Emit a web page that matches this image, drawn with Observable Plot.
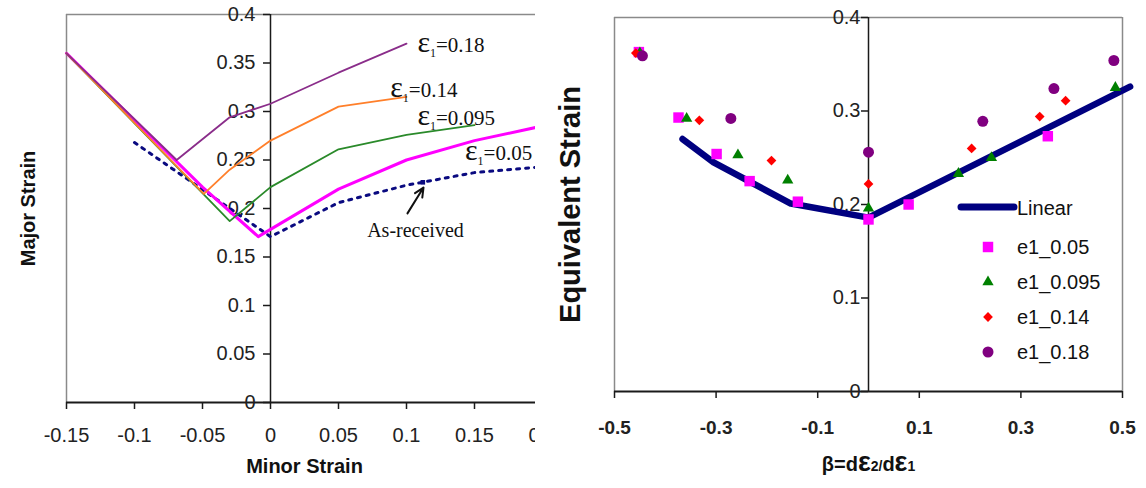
<!DOCTYPE html>
<html><head><meta charset="utf-8">
<script src="https://cdn.jsdelivr.net/npm/d3@7"></script>
<script src="https://cdn.jsdelivr.net/npm/@observablehq/plot@0.6"></script>
<style>
html,body{margin:0;padding:0;background:#fff;}
#wrap{position:relative;width:1146px;height:488px;overflow:hidden;font-family:Arial,"Liberation Sans",sans-serif;background:#fff;}
#left{position:absolute;left:0;top:0;width:535px;height:488px;overflow:hidden;}
#left svg, #right svg{max-width:none !important;}
#right{position:absolute;left:546px;top:0;width:600px;height:488px;}
#legend{position:absolute;left:0;top:0;pointer-events:none;}
</style></head><body>
<div id="wrap"><div id="left"></div><div id="right"></div><svg id="legend" width="1146" height="488"></svg></div>
<script>
// ---------- Left panel data (Minor strain, Major strain) ----------
const minorTicks = [-0.15, -0.1, -0.05, 0, 0.05, 0.1, 0.15, 0.2];
const majorTicks = [0, 0.05, 0.1, 0.15, 0.2, 0.25, 0.3, 0.35, 0.4];
const fld018 = [[-0.15, 0.36], [-0.069, 0.25], [-0.03, 0.294], [0, 0.308], [0.05, 0.34], [0.1, 0.37]];
const fld014 = [[-0.15, 0.36], [-0.049, 0.215], [-0.03, 0.24], [0, 0.27], [0.05, 0.305], [0.1, 0.315]];
const fld0095 = [[-0.15, 0.36], [-0.03, 0.187], [0, 0.222], [0.05, 0.261], [0.1, 0.276], [0.15, 0.286]];
const fld005 = [[-0.15, 0.36], [-0.05, 0.222], [-0.009, 0.171], [0.05, 0.22], [0.1, 0.25], [0.15, 0.27], [0.2, 0.285]];
const asReceived = [[-0.1, 0.268], [0, 0.171], [0.05, 0.206], [0.1, 0.224], [0.15, 0.237], [0.2, 0.243]];
const asReceivedMarker = [[0.112, 0.227]];
const curveLabels = [
  {text: "ε1=0.18", x: 0.108, y: 0.368},
  {text: "ε1=0.14", x: 0.088, y: 0.322},
  {text: "ε1=0.095", x: 0.108, y: 0.293},
  {text: "ε1=0.05", x: 0.143, y: 0.257}
];
const noteArrow = [{x1: 0.1007, y1: 0.195, x2: 0.1125, y2: 0.2216}];
const noteText = [{text: "As-received", x: 0.1066, y: 0.177}];

// ---------- Right panel data (beta, equivalent strain) ----------
const betaTicks = [-0.5, -0.3, -0.1, 0.1, 0.3, 0.5];
const eqTicks = [0, 0.1, 0.2, 0.3, 0.4];
const linearFit = [[-0.366, 0.27], [-0.305, 0.245], [-0.153, 0.201], [0, 0.186], [0.515, 0.326]];
const e1_005 = [[-0.452, 0.363], [-0.374, 0.293], [-0.299, 0.254], [-0.234, 0.225], [-0.139, 0.203], [0, 0.184], [0.079, 0.2], [0.353, 0.273]];
const e1_0095 = [[-0.45, 0.362], [-0.358, 0.292], [-0.257, 0.253], [-0.159, 0.226], [0, 0.196], [0.177, 0.233], [0.242, 0.25], [0.486, 0.325]];
const e1_014 = [[-0.458, 0.362], [-0.333, 0.29], [-0.191, 0.247], [0, 0.222], [0.203, 0.26], [0.337, 0.294], [0.388, 0.311]];
const e1_018 = [[-0.445, 0.359], [-0.271, 0.292], [0, 0.256], [0.225, 0.289], [0.365, 0.324], [0.483, 0.354]];
const legendNames = ["Linear", "e1_0.05", "e1_0.095", "e1_0.14", "e1_0.18"];

const SANS = "Arial, 'Liberation Sans', sans-serif";
const SERIF = "'Liberation Serif', 'Times New Roman', 'DejaVu Serif', serif";
const GRAY = "#8a8a8a", DARK = "#1a1a1a";
const px = d => d[0], py = d => d[1];

function richText(svg, content, parts) {
  svg.querySelectorAll("text").forEach(t => {
    if (t.textContent === content) {
      t.textContent = "";
      for (const p of parts) {
        const ts = document.createElementNS("http://www.w3.org/2000/svg", "tspan");
        ts.textContent = p.t;
        if (p.size) ts.setAttribute("font-size", p.size);
        if (p.dy) ts.setAttribute("dy", p.dy);
        t.appendChild(ts);
      }
    }
  });
}

// ---------- Left chart ----------
const yRowsL = majorTicks.map(v => ({x: 0, y: v}));
const left = Plot.plot({
  width: 544, height: 488, marginLeft: 66, marginRight: 2, marginTop: 14, marginBottom: 86,
  x: {domain: [-0.15, 0.2]},
  y: {domain: [0, 0.4], axis: null},
  style: {fontFamily: SANS, fontSize: "20px", color: "#111", background: "transparent", maxWidth: "none"},
  marks: [
    Plot.ruleX([-0.15], {stroke: GRAY, strokeWidth: 1.5}),
    Plot.ruleY([0.4], {stroke: GRAY, strokeWidth: 1.5}),
    Plot.ruleX([0], {stroke: DARK, strokeWidth: 1.5}),
    Plot.ruleY([0], {stroke: DARK, strokeWidth: 1.8}),
    Plot.ruleY(yRowsL, {y: "y", x1: "x", x2: "x", insetLeft: -7, stroke: DARK, strokeWidth: 1.5}),
    Plot.text(yRowsL, {x: "x", y: "y", text: d => String(d.y), textAnchor: "end", dx: -15, fontSize: 20, fill: "#222"}),
    Plot.axisX(minorTicks, {tickSize: 7, tickPadding: 18, tickFormat: d => String(d), fontSize: 20, label: null, strokeWidth: 1.5, stroke: DARK, fill: "#222"}),
    Plot.line(asReceived, {x: px, y: py, stroke: "#0a0a80", strokeWidth: 3, strokeDasharray: "3,6"}),
    Plot.dot(asReceivedMarker, {x: px, y: py, symbol: "square", r: 2.6, fill: "#0a0a80"}),
    Plot.line(fld005, {x: px, y: py, stroke: "#ff00ff", strokeWidth: 3}),
    Plot.line(fld0095, {x: px, y: py, stroke: "#2a8a2a", strokeWidth: 1.8}),
    Plot.line(fld014, {x: px, y: py, stroke: "#ff7f2a", strokeWidth: 1.8}),
    Plot.line(fld018, {x: px, y: py, stroke: "#8a2d8a", strokeWidth: 1.8}),
    Plot.text(curveLabels, {x: "x", y: "y", text: "text", textAnchor: "start", fontFamily: SERIF, fontSize: 21, fill: "#111"}),
    Plot.arrow(noteArrow, {x1: "x1", y1: "y1", x2: "x2", y2: "y2", stroke: "#111", strokeWidth: 2, headLength: 9, headAngle: 50}),
    Plot.text(noteText, {x: "x", y: "y", text: "text", fontFamily: SERIF, fontSize: 20, fill: "#111"}),
    Plot.text(["Minor Strain"], {text: d => d, frameAnchor: "bottom", textAnchor: "middle", dy: 70, fontWeight: "bold", fontSize: 20, fill: "#111"}),
    Plot.text(["Major Strain"], {text: d => d, frameAnchor: "left", textAnchor: "middle", dx: -38, rotate: -90, fontWeight: "bold", fontSize: 20, fill: "#111"})
  ]
});
document.getElementById("left").appendChild(left);
for (const c of curveLabels) {
  richText(left, c.text, [{t: "ε", size: 30}, {t: "1", size: 12, dy: 5}, {t: c.text.slice(2), size: 21, dy: -5}]);
}

// ---------- Right chart ----------
const yRowsR = eqTicks.map(v => ({x: 0, y: v}));
const right = Plot.plot({
  width: 600, height: 488, marginLeft: 68, marginRight: 24, marginTop: 17, marginBottom: 97,
  x: {domain: [-0.5, 0.5]},
  y: {domain: [0, 0.4], axis: null},
  style: {fontFamily: SANS, fontSize: "20px", color: "#111", background: "transparent", maxWidth: "none"},
  marks: [
    Plot.ruleX([-0.5], {stroke: GRAY, strokeWidth: 1.5}),
    Plot.ruleX([0.5], {stroke: GRAY, strokeWidth: 1.5}),
    Plot.ruleY([0.4], {stroke: GRAY, strokeWidth: 1.5}),
    Plot.ruleX([0], {stroke: DARK, strokeWidth: 1.5}),
    Plot.ruleY([0], {stroke: DARK, strokeWidth: 1.8}),
    Plot.ruleY(yRowsR, {y: "y", x1: "x", x2: "x", insetLeft: -7, stroke: DARK, strokeWidth: 1.5}),
    Plot.text(yRowsR, {x: "x", y: "y", text: d => String(d.y), textAnchor: "end", dx: -8, fontSize: 20, fill: "#222"}),
    Plot.axisX(betaTicks, {tickSize: 7, tickPadding: 22, tickFormat: d => String(d), fontSize: 19, fontWeight: "bold", label: null, strokeWidth: 1.5, stroke: DARK, fill: "#222"}),
    Plot.line(linearFit, {x: px, y: py, stroke: "#000080", strokeWidth: 6.5, strokeLinecap: "round", strokeLinejoin: "round"}),
    Plot.dot(e1_005, {x: px, y: py, symbol: "square", r: 5.9, fill: "#ff00ff"}),
    Plot.dot(e1_0095, {x: px, y: py, symbol: "triangle", r: 4.2, fill: "#008000"}),
    Plot.dot(e1_014, {x: px, y: py, symbol: "diamond2", r: 4.4, fill: "#ff0000"}),
    Plot.dot(e1_018, {x: px, y: py, symbol: "circle", r: 5.5, fill: "#800080"}),
    Plot.text(["β=dε2/dε1"], {text: d => d, frameAnchor: "bottom", textAnchor: "middle", dy: 79, fontWeight: "bold", fontSize: 20, fill: "#111"}),
    Plot.text(["Equivalent Strain"], {text: d => d, frameAnchor: "left", textAnchor: "middle", dx: -44, rotate: -90, fontWeight: "bold", fontSize: 29, fill: "#111"})
  ]
});
document.getElementById("right").appendChild(right);
richText(right, "β=dε2/dε1", [{t: "β=d", size: 20}, {t: "ε", size: 27}, {t: "2/", size: 14}, {t: "d", size: 20}, {t: "ε", size: 27}, {t: "1", size: 14}]);

// ---------- Legend (right panel) ----------
const lg = d3.select("#legend");
const legX = 988, legTextX = 1017, legY0 = 208, legRows = [247, 282, 317, 352];
lg.append("line").attr("x1", 961).attr("x2", 1014).attr("y1", 207).attr("y2", 207)
  .attr("stroke", "#000080").attr("stroke-width", 7).attr("stroke-linecap", "round");
const legSym = [
  {sym: d3.symbolSquare, r: 5.9, fill: "#ff00ff"},
  {sym: d3.symbolTriangle, r: 4.2, fill: "#008000"},
  {sym: d3.symbolDiamond2, r: 4.4, fill: "#ff0000"},
  {sym: d3.symbolCircle, r: 5.5, fill: "#800080"}
];
const texts = [{t: legendNames[0], y: legY0}].concat(legRows.map((y, i) => ({t: legendNames[i + 1], y})));
legSym.forEach((s, i) => {
  lg.append("path").attr("d", d3.symbol(s.sym, Math.PI * s.r * s.r)())
    .attr("transform", `translate(${legX},${legRows[i]})`).attr("fill", s.fill);
});
texts.forEach(d => {
  lg.append("text").attr("x", legTextX).attr("y", d.y).attr("dy", "0.35em")
    .attr("font-family", SANS).attr("font-size", 20).attr("fill", "#111").text(d.t);
});
</script>
</body></html>
